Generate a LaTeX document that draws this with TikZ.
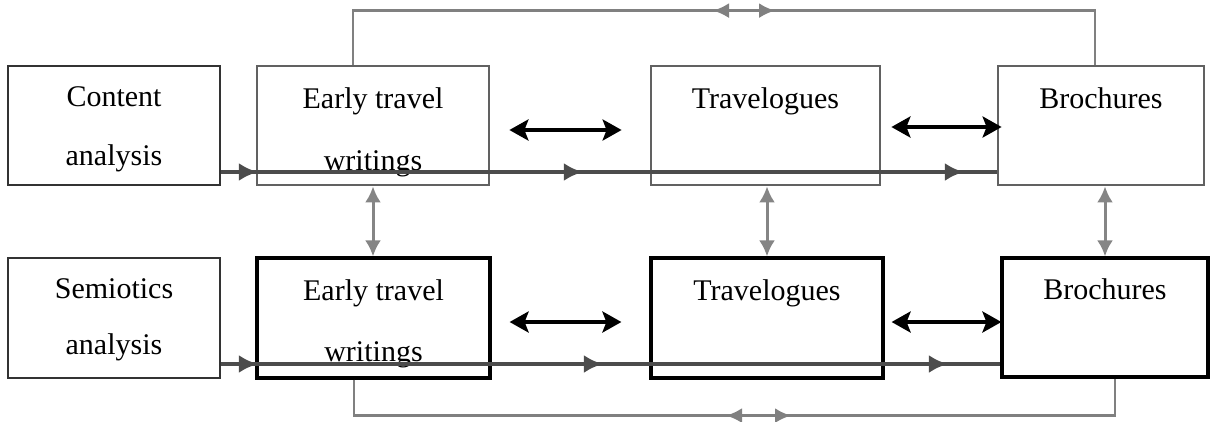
\documentclass[tikz,border=0pt]{standalone}
\usepackage{fontspec}
\setmainfont{Liberation Serif}
\usetikzlibrary{arrows.meta,decorations.markings,calc}
\begin{document}
\begin{tikzpicture}[x=1pt,y=-1pt,
  txt/.style={font=\fontsize{30}{36}\selectfont, anchor=base, inner sep=0pt},
  srcbox/.style={draw=black!80, line width=1.8pt, inner sep=0pt, minimum height=119pt},
  topbox/.style={draw=black!62, line width=2.8pt, inner sep=0pt, minimum height=119pt},
  botbox/.style={draw=black, line width=3.2pt, inner sep=0pt, minimum height=120pt},
  flow/.style={draw=black!70, line width=4pt},
  fb/.style={draw=black!50, line width=2.4pt},
  vert/.style={draw=black!48, line width=3pt, {Latex[length=16pt,width=16pt]}-{Latex[length=16pt,width=16pt]}},
  dbl/.style={draw=black, line width=4.5pt, {Stealth[length=19pt,width=21pt,inset=4pt]}-{Stealth[length=19pt,width=21pt,inset=4pt]}}
]
\useasboundingbox (0,0) rectangle (1214,421);
% top row
\node[srcbox, minimum width=212pt] (ca) at (114,125.5) {};
\node[topbox, minimum width=232pt] (e1) at (373,125.5) {};
\node[topbox, minimum width=229pt] (t1) at (765.5,125.5) {};
\node[topbox, minimum width=206pt] (b1) at (1101,125.5) {};
% bottom row
\node[srcbox, minimum width=212pt, minimum height=120pt] (sa) at (114,318) {};
\node[botbox, minimum width=233pt] (e2) at (373.5,318) {};
\node[botbox, minimum width=232pt] (t2) at (767,318) {};
\node[botbox, minimum width=206pt, minimum height=119pt] (b2) at (1105,317.5) {};
% texts
\node[txt] (ca1) at (114,106) {Content};
\node[txt] (ca2) at (114,165) {analysis};
\node[txt] (e1a) at (373,108) {Early travel};
\node[txt] (e1b) at (373,170) {writings};
\node[txt] (t1a) at (765.5,108) {Travelogues};
\node[txt] (b1a) at (1101,108) {Brochures};
\node[txt] (sa1) at (114,298) {Semiotics};
\node[txt] (sa2) at (114,354) {analysis};
\node[txt] (e2a) at (373.5,300) {Early travel};
\node[txt] (e2b) at (373.5,361) {writings};
\node[txt] (t2a) at (767,300) {Travelogues};
\node[txt] (b2a) at (1105,299) {Brochures};
% flow lines
\draw[flow, postaction={decorate, decoration={markings,
   mark=at position 37pt with {\arrow[black!70]{Latex[length=19pt,width=18pt]}},
   mark=at position 362pt with {\arrow[black!70]{Latex[length=19pt,width=18pt]}},
   mark=at position 743pt with {\arrow[black!70]{Latex[length=19pt,width=18pt]}}}}]
   ($(ca.east)+(0,46.5)$) -- ($(b1.west)+(0,46.5)$);
\draw[flow, postaction={decorate, decoration={markings,
   mark=at position 37pt with {\arrow[black!70]{Latex[length=19pt,width=18pt]}},
   mark=at position 382pt with {\arrow[black!70]{Latex[length=19pt,width=18pt]}},
   mark=at position 727pt with {\arrow[black!70]{Latex[length=19pt,width=18pt]}}}}]
   ($(sa.east)+(0,46)$) -- ($(b2.west)+(0,46.5)$);
% double black arrows
\coordinate (d1a) at ($(e1.east)+(19,4.5)$);
\coordinate (d1b) at ($(t1.west)+(-28,4.5)$);
\coordinate (d2a) at ($(t1.east)+(10,1.5)$);
\draw[dbl] (d1a) -- (d1b);
\draw[dbl] (d2a) -- ($(b1.west)+(5,1.5)$);
\coordinate (d3a) at ($(e2.east)+(18,4)$);
\coordinate (d3b) at ($(t2.west)+(-28,4)$);
\coordinate (d4a) at ($(t2.east)+(7,4)$);
\draw[dbl] (d3a) -- (d3b);
\draw[dbl] (d4a) -- ($(b2.west)+(1,4.5)$);
% vertical links
\draw[vert] (e1.south) -- (e1.south |- e2.north);
\draw[vert] (t2.north |- t1.south) -- (t2.north);
\draw[vert] (b2.north |- b1.south) -- (b2.north);
% feedback loops
\draw[fb, postaction={decorate, decoration={markings,
   mark=at position 414pt with {\arrowreversed[black!50]{Latex[length=16pt,width=15pt]}},
   mark=at position 476pt with {\arrow[black!50]{Latex[length=16pt,width=15pt]}}}}]
   ($(e1.north)+(-20,0)$) |- ($(b1.north)+(-6,-54)$) -- ($(b1.north)+(-6,0)$);
\draw[fb, postaction={decorate, decoration={markings,
   mark=at position 408pt with {\arrowreversed[black!50]{Latex[length=16pt,width=15pt]}},
   mark=at position 473pt with {\arrow[black!50]{Latex[length=16pt,width=15pt]}}}}]
   ($(e2.south)+(-19.5,0)$) |- ($(b2.south)+(10,37)$) -- ($(b2.south)+(10,0)$);
\end{tikzpicture}
\end{document}
